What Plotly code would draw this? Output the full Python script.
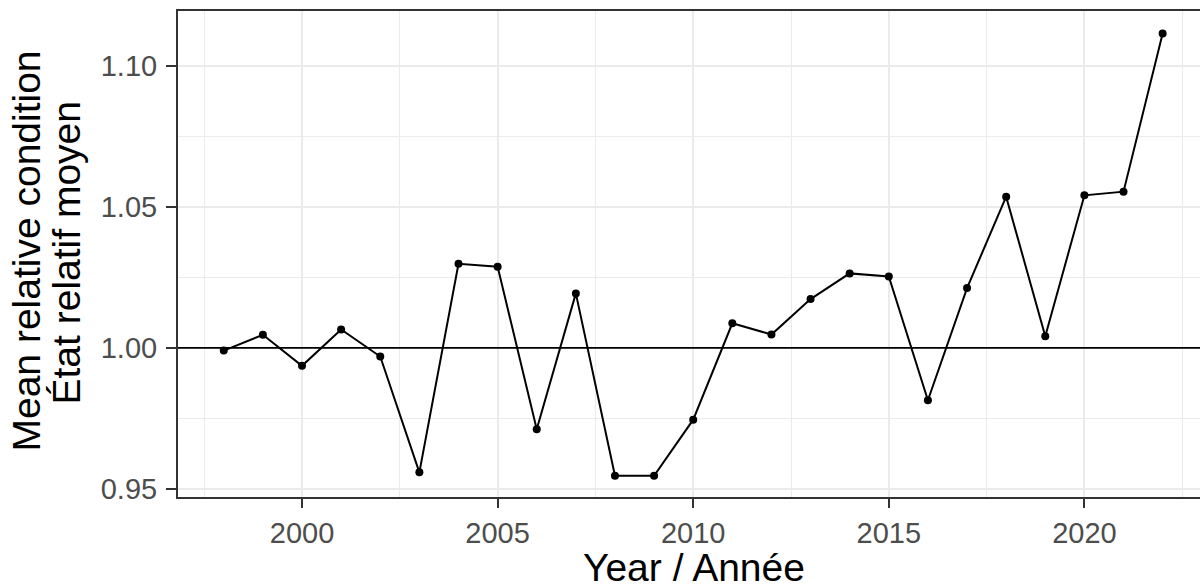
import plotly.graph_objects as go

# Annual mean relative condition index
years = list(range(1998, 2023))
condition = [
    0.9990, 1.0046, 0.9936, 1.0065, 0.9969, 0.9558, 1.0298, 1.0288,
    0.9711, 1.0193, 0.9546, 0.9546, 0.9745, 1.0087, 1.0047, 1.0173,
    1.0264, 1.0253, 0.9814, 1.0212, 1.0536, 1.0041, 1.0541, 1.0554,
    1.1115,
]
reference_level = 1.0

x_ticks = [2000, 2005, 2010, 2015, 2020]
y_ticks = [0.95, 1.00, 1.05, 1.10]
y_tick_text = ["0.95", "1.00", "1.05", "1.10"]

x_title = "Year / Année"
y_title_lines = ["Mean relative condition", "État relatif moyen"]

FONT = "Liberation Sans, Arial, sans-serif"
GRID = "#EBEBEB"
BORDER = "#333333"
TICK_TEXT = "#4D4D4D"
TITLE_SIZE = 39
TICK_SIZE = 29

fig = go.Figure()

fig.add_trace(go.Scatter(
    x=years, y=condition,
    mode="lines+markers",
    line=dict(color="black", width=2),
    marker=dict(color="black", size=8),
    showlegend=False,
    hoverinfo="x+y",
))

fig.add_hline(y=reference_level, line=dict(color="black", width=1.8), layer="above")

fig.update_layout(
    width=1200, height=588,
    margin=dict(l=178, r=0, t=11, b=91),
    paper_bgcolor="white",
    plot_bgcolor="white",
    font=dict(family=FONT, color="black"),
    xaxis=dict(
        range=[1996.83, 2022.955],
        tickmode="array", tickvals=x_ticks,
        ticks="outside", ticklen=9, tickwidth=2, tickcolor=BORDER,
        tickfont=dict(size=TICK_SIZE, color=TICK_TEXT, family=FONT),
        showgrid=True, gridcolor=GRID, gridwidth=2,
        minor=dict(showgrid=True, gridcolor=GRID, gridwidth=1,
                   tickmode="array",
                   tickvals=[1997.5, 2002.5, 2007.5, 2012.5, 2017.5, 2022.5]),
        showline=True, linecolor=BORDER, linewidth=2, mirror=True,
        zeroline=False,
    ),
    yaxis=dict(
        range=[0.94706, 1.1195],
        tickmode="array", tickvals=y_ticks, ticktext=y_tick_text,
        ticks="outside", ticklen=10, tickwidth=2, tickcolor=BORDER,
        ticklabelstandoff=3,
        tickfont=dict(size=TICK_SIZE, color=TICK_TEXT, family=FONT),
        showgrid=True, gridcolor=GRID, gridwidth=2,
        minor=dict(showgrid=True, gridcolor=GRID, gridwidth=1,
                   tickmode="array", tickvals=[0.975, 1.025, 1.075]),
        showline=True, linecolor=BORDER, linewidth=2, mirror=False,
        zeroline=False,
    ),
)

# Axis titles (plot area spans 178..1200 px wide, 11..497 px tall)
PW, PH = 1022, 486
fig.add_annotation(
    text=x_title,
    xref="paper", yref="paper",
    x=(694 - 178) / PW, y=-(544 - 497) / PH,
    xanchor="center", yanchor="top",
    showarrow=False,
    font=dict(size=TITLE_SIZE, color="black", family=FONT),
)
for line_text, x_px, y_px in zip(y_title_lines, [26, 66], [251.5, 253.5]):
    fig.add_annotation(
        text=line_text,
        xref="paper", yref="paper",
        x=(x_px - 178) / PW, y=(497 - y_px) / PH,
        xanchor="center", yanchor="middle",
        textangle=-90,
        showarrow=False,
        font=dict(size=TITLE_SIZE, color="black", family=FONT),
    )

fig.write_html("out.html")
